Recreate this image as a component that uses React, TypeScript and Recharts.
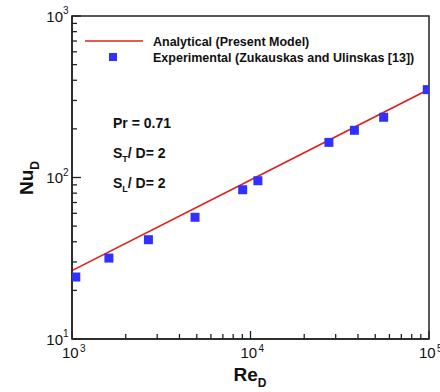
import React from "react";
import {
  ComposedChart,
  XAxis,
  YAxis,
  Line,
  Scatter,
  ReferenceArea,
} from "recharts";

// analytical model (straight line in log-log)
const reAnalytical = [1000, 10000, 100000];
const nuAnalytical = [26.5, 96.5, 352];

// experimental points (Zukauskas and Ulinskas)
const reExperimental = [1050, 1610, 2680, 4890, 9040, 11000, 27500, 38200, 55700, 97800];
const nuExperimental = [24.2, 31.7, 41.2, 56.7, 84, 95.5, 165, 196, 236, 350];

const xTicks = [
  1000, 2000, 3000, 4000, 5000, 6000, 7000, 8000, 9000,
  10000, 20000, 30000, 40000, 50000, 60000, 70000, 80000, 90000, 100000,
];
const yTicks = [
  10, 20, 30, 40, 50, 60, 70, 80, 90,
  100, 200, 300, 400, 500, 600, 700, 800, 900, 1000,
];
const xMajor = [1000, 10000, 100000];
const yMajor = [10, 100, 1000];

const analytical = reAnalytical.map((re, i) => ({ re, nu: nuAnalytical[i] }));
const experimental = reExperimental.map((re, i) => ({ re, nu: nuExperimental[i] }));

const axisColor = "#222";
const font = "'Liberation Sans', Arial, sans-serif";
const red = "#e0201c";
const blue = "#3030ff";

const XTick = (props: any) => {
  const { x, y, payload } = props;
  const v = payload.value;
  const major = xMajor.includes(v);
  return (
    <g>
      <line x1={x} y1={y} x2={x} y2={y - (major ? 8 : 5)} stroke={axisColor} strokeWidth={1.3} />
      {major && (
        <g fontFamily={font} fill="#111">
          <text x={x - 10} y={y + 19} fontSize={15}>10</text>
          <text x={x + 8} y={y + 13} fontSize={10}>{Math.round(Math.log10(v))}</text>
        </g>
      )}
    </g>
  );
};

const YTick = (props: any) => {
  const { x, y, payload } = props;
  const v = payload.value;
  const major = yMajor.includes(v);
  return (
    <g>
      <line x1={x} y1={y} x2={x + (major ? 9 : 5)} y2={y} stroke={axisColor} strokeWidth={1.3} />
      {major && (
        <g fontFamily={font} fill="#111">
          <text x={x - 9} y={y + 5.5} fontSize={15} textAnchor="end">10</text>
          <text x={x - 9} y={y - 2} fontSize={10}>{Math.round(Math.log10(v))}</text>
        </g>
      )}
    </g>
  );
};

const Square = (props: any) => (
  <rect x={props.cx - 4.5} y={props.cy - 4.5} width={9} height={9} fill={blue} />
);

export default function App() {
  return (
    <div style={{ position: "absolute", left: 0, top: 0, width: 440, height: 392, background: "#fff" }}>
      <ComposedChart
        width={440}
        height={392}
        margin={{ top: 16, right: 11, left: 0, bottom: 0 }}
      >
        <XAxis
          dataKey="re"
          type="number"
          scale="log"
          domain={[1000, 100000]}
          allowDataOverflow
          ticks={xTicks}
          interval={0}
          tickSize={0}
          tickMargin={0}
          tickLine={false}
          tick={<XTick />}
          height={53}
          axisLine={{ stroke: axisColor, strokeWidth: 1.5 }}
        />
        <YAxis
          type="number"
          scale="log"
          domain={[10, 1000]}
          allowDataOverflow
          ticks={yTicks}
          interval={0}
          tickSize={0}
          tickMargin={0}
          tickLine={false}
          tick={<YTick />}
          width={72}
          axisLine={{ stroke: axisColor, strokeWidth: 1.5 }}
        />
        <ReferenceArea
          x1={1000}
          x2={100000}
          y1={10}
          y2={1000}
          fill="none"
          stroke={axisColor}
          strokeWidth={1.5}
          ifOverflow="visible"
        />
        <Line
          data={analytical}
          dataKey="nu"
          stroke={red}
          strokeWidth={1.6}
          dot={false}
          isAnimationActive={false}
        />
        <Scatter
          data={experimental}
          dataKey="nu"
          shape={<Square />}
          isAnimationActive={false}
        />
      </ComposedChart>
      <svg
        width={440}
        height={392}
        style={{ position: "absolute", left: 0, top: 0, pointerEvents: "none" }}
        fontFamily={font}
        fontWeight="bold"
        fill="#111"
      >
        {/* legend */}
        <line x1={85} y1={41} x2={143} y2={41} stroke={red} strokeWidth={1.6} />
        <text x={153} y={45.5} fontSize={12.5}>Analytical (Present Model)</text>
        <rect x={109} y={53} width={8} height={8} fill={blue} />
        <text x={153} y={61.5} fontSize={12.5}>Experimental (Zukauskas and Ulinskas [13])</text>

        {/* annotations */}
        <text x={113} y={128} fontSize={14}>Pr = 0.71</text>
        <text x={113} y={158} fontSize={14}>
          S<tspan fontSize={9} dy={4}>T</tspan>
          <tspan dy={-4}>/ D= 2</tspan>
        </text>
        <text x={113} y={188} fontSize={14}>
          S<tspan fontSize={9} dy={4}>L</tspan>
          <tspan dy={-4}>/ D= 2</tspan>
        </text>

        {/* axis titles */}
        <text x={250} y={381} fontSize={19} textAnchor="middle">
          Re<tspan fontSize={12} dy={6}>D</tspan>
        </text>
        <text x={33} y={178} fontSize={19} textAnchor="middle" transform="rotate(-90 33 178)">
          Nu<tspan fontSize={12} dy={6}>D</tspan>
        </text>
      </svg>
    </div>
  );
}
